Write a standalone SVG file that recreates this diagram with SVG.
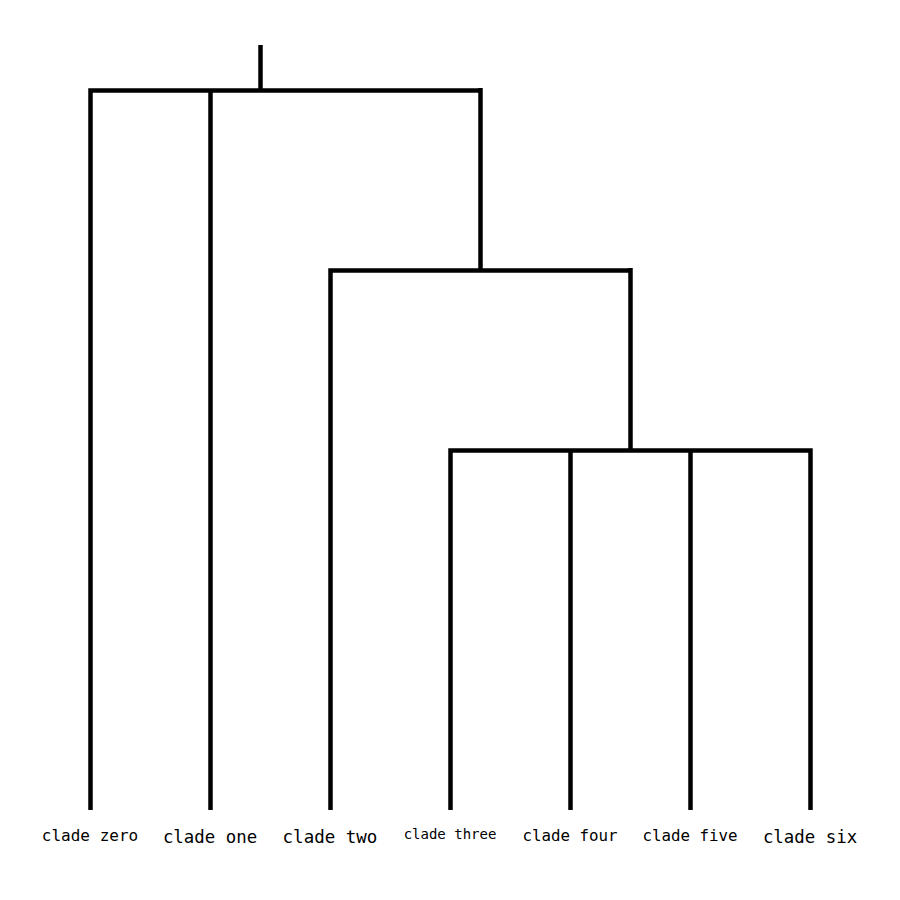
<svg xmlns="http://www.w3.org/2000/svg" width="900" height="900" viewBox="0 0 900 900">
<style>
.e{stroke:#000;stroke-width:4.5;fill:none;stroke-linecap:butt;stroke-linejoin:miter}
.l{font-family:"DejaVu Sans Mono",monospace;text-anchor:middle;fill:#000}
</style>
<rect width="900" height="900" fill="#fff"/>
<g id="connectors">
<path class="e" d="M260.5,45V90"/>
<path class="e" d="M90.5,810V90.5H480.5"/>
<path class="e" d="M210.5,810V90"/>
<path class="e" d="M480.5,88V270"/>
<path class="e" d="M330.5,810V270.5H630.5"/>
<path class="e" d="M630.5,268V450"/>
<path class="e" d="M450.5,810V450.5H810.5V810"/>
<path class="e" d="M570.5,810V450"/>
<path class="e" d="M690.5,810V450"/>
</g>
<g id="leaf0"><text class="l" x="90" y="841" font-size="16">clade zero</text></g>
<g id="leaf1"><text class="l" x="210" y="843" font-size="17.4">clade one</text></g>
<g id="leaf2"><text class="l" x="330" y="843" font-size="17.5">clade two</text></g>
<g id="leaf3"><text class="l" x="450" y="839" font-size="14">clade three</text></g>
<g id="leaf4"><text class="l" x="570" y="841" font-size="15.8">clade four</text></g>
<g id="leaf5"><text class="l" x="690" y="841" font-size="15.8">clade five</text></g>
<g id="leaf6"><text class="l" x="810" y="843" font-size="17.4">clade six</text></g>
</svg>
